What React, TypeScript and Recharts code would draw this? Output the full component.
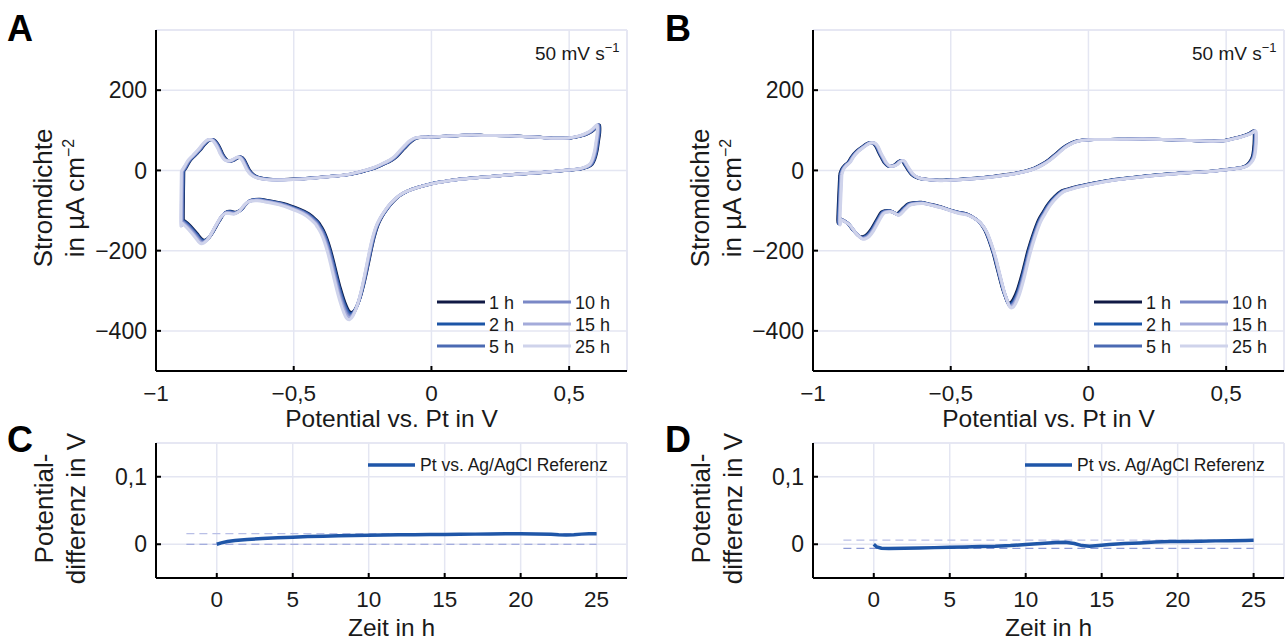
import React from 'react';
import { LineChart, Line, XAxis, YAxis, CartesianGrid, ReferenceLine } from 'recharts';

const FONT = '"Liberation Sans", Arial, Helvetica, sans-serif';
const GRID = '#e4e6f2';
const INK = '#1a1a1a';

// ---- series (CV curves) ----
const seriesLabels = ['1 h', '2 h', '5 h', '10 h', '15 h', '25 h'];
const seriesColors = ['#111a45', '#1c55a6', '#4b6ab3', '#7a88c6', '#a4abda', '#cfd3eb'];

// Panel A: CV loop (potential V, current density µA cm^-2)
const cvLoopA: [number, number][] = [
  [-0.904, -2], [-0.893, 10], [-0.88, 25], [-0.862, 38], [-0.845, 50], [-0.83, 63], [-0.816, 73], [-0.804, 77],
  [-0.792, 75], [-0.783, 68], [-0.772, 55], [-0.762, 40], [-0.75, 28], [-0.74, 24], [-0.728, 24], [-0.718, 27],
  [-0.705, 32], [-0.695, 33], [-0.685, 27], [-0.676, 15], [-0.665, 0], [-0.652, -10], [-0.635, -17], [-0.61, -21],
  [-0.58, -23], [-0.54, -23], [-0.5, -22], [-0.45, -20], [-0.4, -17], [-0.35, -14], [-0.3, -10], [-0.26, -4],
  [-0.24, 0], [-0.21, 6], [-0.18, 15], [-0.15, 25], [-0.13, 35], [-0.11, 50], [-0.092, 63], [-0.075, 74],
  [-0.056, 81], [-0.03, 83], [0, 83], [0.05, 85], [0.1, 87], [0.15, 88], [0.2, 87], [0.3, 86], [0.4, 82],
  [0.45, 80], [0.5, 81], [0.54, 86], [0.57, 94], [0.59, 104], [0.605, 113],
  [0.606, 95], [0.601, 70], [0.596, 48], [0.588, 28], [0.578, 15], [0.56, 8], [0.54, 4], [0.5, 1], [0.45, -2],
  [0.4, -5], [0.3, -10], [0.2, -16], [0.1, -22], [0.05, -27], [0, -33], [-0.05, -42], [-0.09, -52], [-0.12, -64],
  [-0.145, -80], [-0.165, -97], [-0.185, -118], [-0.2, -140], [-0.213, -170], [-0.226, -210], [-0.238, -250],
  [-0.251, -290], [-0.265, -325], [-0.28, -350], [-0.293, -360], [-0.305, -356], [-0.315, -342], [-0.324, -325],
  [-0.336, -298], [-0.348, -266], [-0.36, -232], [-0.372, -200], [-0.385, -172], [-0.397, -152], [-0.41, -137],
  [-0.421, -127], [-0.45, -110], [-0.482, -99], [-0.543, -84], [-0.6, -76], [-0.628, -73], [-0.65, -74],
  [-0.664, -77], [-0.68, -87], [-0.69, -96], [-0.701, -102], [-0.715, -106], [-0.73, -104], [-0.745, -104],
  [-0.76, -112], [-0.774, -127], [-0.785, -140], [-0.798, -156], [-0.81, -168], [-0.822, -175], [-0.832, -177],
  [-0.842, -172], [-0.856, -160], [-0.871, -148], [-0.886, -137], [-0.901, -128], [-0.906, -125],
];
const cvBasePeakA = -360;
const cvPeaksA = [-354, -357, -360, -363, -367, -372];
const cvShiftsA = [0.005, 0.003, 0.002, 0, -0.002, -0.004];

// Panel B
const cvLoopB: [number, number][] = [
  [-0.899, -10], [-0.893, 2], [-0.882, 12], [-0.869, 20], [-0.855, 35], [-0.838, 48], [-0.821, 57], [-0.805, 65],
  [-0.79, 69], [-0.779, 68], [-0.768, 60], [-0.758, 45], [-0.748, 32], [-0.736, 18], [-0.724, 11], [-0.71, 11],
  [-0.699, 14], [-0.688, 21], [-0.677, 25], [-0.67, 22], [-0.663, 14], [-0.652, 2], [-0.639, -10], [-0.62, -18],
  [-0.596, -22], [-0.56, -24], [-0.53, -25], [-0.47, -23], [-0.408, -20], [-0.35, -16], [-0.287, -10], [-0.255, -6],
  [-0.227, -2], [-0.195, 5], [-0.166, 15], [-0.14, 27], [-0.117, 40], [-0.092, 55], [-0.069, 65], [-0.045, 72],
  [-0.021, 75], [0.02, 77], [0.076, 77], [0.197, 78], [0.319, 76], [0.44, 73], [0.49, 74], [0.513, 77],
  [0.545, 82], [0.573, 88], [0.59, 93], [0.604, 98],
  [0.606, 80], [0.603, 50], [0.598, 32], [0.588, 20], [0.573, 11], [0.55, 6], [0.513, 3], [0.45, -2], [0.319, -8],
  [0.23, -13], [0.137, -20], [0.07, -26], [0.016, -33], [-0.045, -42], [-0.07, -47], [-0.093, -52], [-0.118, -66],
  [-0.142, -85], [-0.16, -105], [-0.178, -127], [-0.197, -162], [-0.215, -202], [-0.227, -235], [-0.239, -268],
  [-0.254, -303], [-0.269, -327], [-0.28, -336], [-0.29, -334], [-0.299, -318], [-0.308, -300], [-0.317, -277],
  [-0.33, -242], [-0.342, -210], [-0.357, -178], [-0.372, -152], [-0.39, -133], [-0.408, -122], [-0.44, -110],
  [-0.469, -106], [-0.5, -100], [-0.53, -93], [-0.57, -86], [-0.603, -81], [-0.63, -82], [-0.651, -85],
  [-0.665, -93], [-0.675, -100], [-0.685, -107], [-0.693, -110], [-0.705, -106], [-0.717, -102], [-0.732, -102],
  [-0.748, -106], [-0.765, -125], [-0.784, -148], [-0.8, -162], [-0.815, -168], [-0.825, -168], [-0.833, -164],
  [-0.85, -152], [-0.869, -135], [-0.885, -127], [-0.9, -122], [-0.906, -126],
];
const cvBasePeakB = -336;
const cvPeaksB = [-330, -333, -335, -337, -339, -342];
const cvShiftsB = [-0.004, -0.002, 0, 0.001, 0.002, 0.004];

// ---- potential difference vs. time ----
const driftLabel = 'Pt vs. Ag/AgCl Referenz';
const driftC: [number, number][] = [
  [0, 0], [0.3, 0.002], [0.7, 0.004], [1.2, 0.0055], [2, 0.007], [3, 0.0085], [4, 0.0095], [5, 0.0105],
  [6, 0.0113], [7, 0.012], [8, 0.0127], [9, 0.0131], [10, 0.0134], [11, 0.0137], [12, 0.014], [13, 0.0142],
  [14, 0.0144], [15, 0.0146], [16, 0.0148], [17, 0.015], [18, 0.0152], [19, 0.0154], [20, 0.0155], [21, 0.0153],
  [22, 0.0147], [22.5, 0.0141], [23, 0.0138], [23.5, 0.0142], [24, 0.015], [24.5, 0.0155], [25, 0.0157],
];
const boundsC = [0, 0.0157];
const driftD: [number, number][] = [
  [0, 0], [0.2, -0.004], [0.5, -0.006], [1, -0.0063], [2, -0.006], [3, -0.0055], [4, -0.005], [5, -0.0045],
  [6, -0.004], [7, -0.0035], [8, -0.003], [9, -0.002], [10, -0.0005], [11, 0.001], [12, 0.0025], [12.6, 0.003],
  [13.2, 0.001], [13.7, -0.002], [14.2, -0.003], [14.8, -0.002], [15.5, -0.0005], [16.5, 0.001], [17.5, 0.002],
  [18.5, 0.0033], [19.5, 0.004], [20.5, 0.0042], [21.5, 0.0045], [22.5, 0.005], [23.5, 0.0052], [24.5, 0.0057],
  [25, 0.006],
];
const boundsD = [-0.006, 0.006];
const boundsSpan = [-2, 25];

// ---- axes ----
const cvXTicks = [-1, -0.5, 0, 0.5];
const cvYTicks = [-400, -200, 0, 200];
const cvXDomain = [-1, 0.71];
const cvYDomain = [-500, 350];
const tXTicks = [0, 5, 10, 15, 20, 25];
const tYTicks = [0, 0.1];
const tXDomain = [-4, 27];
const tYDomain = [-0.05, 0.15];

const fmt = (v: number) => (v < 0 ? '\u2212' : '') + String(Math.abs(Math.round(v * 1000) / 1000)).replace('.', ',');

const catmullRom = (context: any) => {
  let pts: number[][] = [];
  return {
    areaStart() {},
    areaEnd() {},
    lineStart() { pts = []; },
    point(x: number, y: number) { pts.push([+x, +y]); },
    lineEnd() {
      const n = pts.length;
      if (!n) return;
      context.moveTo(pts[0][0], pts[0][1]);
      for (let i = 0; i < n - 1; i++) {
        const p0 = pts[Math.max(i - 1, 0)], p1 = pts[i], p2 = pts[i + 1], p3 = pts[Math.min(i + 2, n - 1)];
        context.bezierCurveTo(
          p1[0] + (p2[0] - p0[0]) / 6, p1[1] + (p2[1] - p0[1]) / 6,
          p2[0] - (p3[0] - p1[0]) / 6, p2[1] - (p3[1] - p1[1]) / 6,
          p2[0], p2[1]);
      }
    },
  };
};

const tickStyle = { fontSize: 22.5, fill: INK, fontFamily: FONT };
const yTickStyle = { fontSize: 23, fill: INK, fontFamily: FONT };
const axisLine = { stroke: '#000', strokeWidth: 2 };
const tickLine = { stroke: '#000', strokeWidth: 2 };

const YTitle = ({ x, y, l1, l2, sup }: any) => (
  <text transform={`rotate(-90 ${x} ${y})`} x={x} y={y} textAnchor="middle" fontSize={26} fontFamily={FONT} fill={INK}>
    <tspan x={x} dy={0}>{l1}</tspan>
    <tspan x={x} dy={32}>{l2}{sup ? <tspan dy={-10} fontSize={16}>{sup}</tspan> : null}</tspan>
  </text>
);

const XTitle = ({ x, y, text }: any) => (
  <text x={x} y={y} textAnchor="middle" fontSize={24.5} fontFamily={FONT} fill={INK}>{text}</text>
);

function CVPanel({ loop, shifts, peaks, basePeak, left }: any) {
  const closed = [...loop, loop[0]];
  const seriesData = seriesLabels.map((_, i) =>
    closed.map(([v, c]: [number, number]) => ({ x: v + shifts[i], y: c < 0 ? (c * peaks[i]) / basePeak : c })));
  return (
    <div style={{ position: 'absolute', left, top: 0 }}>
      <LineChart width={629} height={432} margin={{ top: 30, right: 2, bottom: 0, left: 96 }}>
        <CartesianGrid stroke={GRID} strokeWidth={1.5} />
        <ReferenceLine y={cvYDomain[1]} stroke={GRID} strokeWidth={1.5} />
        <ReferenceLine x={cvXDomain[1]} stroke={GRID} strokeWidth={1.5} />
        <XAxis type="number" dataKey="x" domain={cvXDomain} ticks={cvXTicks} allowDataOverflow height={61}
          tickFormatter={fmt} tick={tickStyle} tickSize={-5} tickMargin={19.5} axisLine={axisLine} tickLine={tickLine}
          label={{ content: () => <XTitle x={391.5} y={427} text="Potential vs. Pt in V" /> }} />
        <YAxis type="number" dataKey="y" domain={cvYDomain} ticks={cvYTicks} allowDataOverflow width={60}
          tickFormatter={fmt} tick={yTickStyle} tickSize={-5} tickMargin={14} axisLine={axisLine} tickLine={tickLine}
          label={{ content: () => <YTitle x={52} y={198} l1="Stromdichte" l2={'in \u00b5A cm'} sup={'\u22122'} /> }} />
        {seriesData.map((d, i) => (
          <Line key={seriesLabels[i]} name={seriesLabels[i]} data={d} dataKey="y" type={catmullRom as any}
            stroke={seriesColors[i]} strokeWidth={3} dot={false} activeDot={false} isAnimationActive={false} />
        ))}
      </LineChart>
    </div>
  );
}

function DriftPanel({ drift, bounds, left }: any) {
  const data = drift.map(([t, v]: [number, number]) => ({ t, v }));
  const lo = boundsSpan.map((t) => ({ t, v: bounds[0] }));
  const hi = boundsSpan.map((t) => ({ t, v: bounds[1] }));
  return (
    <div style={{ position: 'absolute', left, top: 420 }}>
      <LineChart width={629} height={221} margin={{ top: 23, right: 2, bottom: 0, left: 96 }}>
        <CartesianGrid stroke={GRID} strokeWidth={1.5} />
        <ReferenceLine y={tYDomain[1]} stroke={GRID} strokeWidth={1.5} />
        <ReferenceLine x={tXDomain[1]} stroke={GRID} strokeWidth={1.5} />
        <XAxis type="number" dataKey="t" domain={tXDomain} ticks={tXTicks} allowDataOverflow height={63}
          tickFormatter={fmt} tick={tickStyle} tickSize={-5} tickMargin={18.5} axisLine={axisLine} tickLine={tickLine}
          label={{ content: () => <XTitle x={391.5} y={215.5} text="Zeit in h" /> }} />
        <YAxis type="number" dataKey="v" domain={tYDomain} ticks={tYTicks} allowDataOverflow width={60}
          tickFormatter={fmt} tick={yTickStyle} tickSize={-5} tickMargin={14} axisLine={axisLine} tickLine={tickLine}
          label={{ content: () => <YTitle x={53} y={88.5} l1="Potential-" l2="differenz in V" /> }} />
        <Line data={lo} dataKey="v" stroke="#8e9bd6" strokeWidth={1.2} strokeDasharray="8 5" dot={false} activeDot={false} isAnimationActive={false} />
        <Line data={hi} dataKey="v" stroke="#b9bfe6" strokeWidth={1.2} strokeDasharray="8 5" dot={false} activeDot={false} isAnimationActive={false} />
        <Line data={data} name={driftLabel} dataKey="v" type="linear" stroke="#1f56a8" strokeWidth={3.5} dot={false} activeDot={false} isAnimationActive={false} />
      </LineChart>
    </div>
  );
}

function Overlay() {
  const legendRows = [302, 324, 346];
  const cvLegend = (dx: number) =>
    seriesLabels.map((lab, i) => {
      const col = i < 3 ? 0 : 1;
      const row = i % 3;
      const x0 = dx + (col === 0 ? 437 : 523);
      const y = legendRows[row];
      return (
        <g key={lab + dx}>
          <line x1={x0} x2={x0 + 48} y1={y} y2={y} stroke={seriesColors[i]} strokeWidth={3} />
          <text x={x0 + 52} y={y + 6.5} fontSize={18} fontFamily={FONT} fill={INK}>{lab}</text>
        </g>
      );
    });
  const rate = (x: number) => (
    <text x={x} y={60} fontSize={19} fontFamily={FONT} fill={INK}>
      50 mV s<tspan dy={-8} fontSize={13}>{'\u22121'}</tspan>
    </text>
  );
  const driftLegend = (dx: number) => (
    <g>
      <line x1={dx + 368} x2={dx + 415} y1={465} y2={465} stroke="#1f56a8" strokeWidth={3.5} />
      <text x={dx + 420} y={471} fontSize={17.5} fontFamily={FONT} fill={INK}>{driftLabel}</text>
    </g>
  );
  const letter = (x: number, y: number, t: string) => (
    <text x={x} y={y} fontSize={36} fontWeight="bold" fontFamily={FONT} fill="#000">{t}</text>
  );
  return (
    <svg width={1286} height={641} style={{ position: 'absolute', left: 0, top: 0, pointerEvents: 'none' }}>
      {letter(7, 41, 'A')}
      {letter(665, 41, 'B')}
      {letter(7, 452, 'C')}
      {letter(665, 452, 'D')}
      {rate(535)}
      {rate(1192)}
      {cvLegend(0)}
      {cvLegend(657)}
      {driftLegend(0)}
      {driftLegend(657)}
    </svg>
  );
}

export default function App() {
  return (
    <div style={{ position: 'absolute', left: 0, top: 0, width: 1286, height: 641, background: '#fff', overflow: 'hidden', fontFamily: FONT }}>
      <CVPanel loop={cvLoopA} shifts={cvShiftsA} peaks={cvPeaksA} basePeak={cvBasePeakA} left={0} />
      <CVPanel loop={cvLoopB} shifts={cvShiftsB} peaks={cvPeaksB} basePeak={cvBasePeakB} left={657} />
      <DriftPanel drift={driftC} bounds={boundsC} left={0} />
      <DriftPanel drift={driftD} bounds={boundsD} left={657} />
      <Overlay />
    </div>
  );
}
